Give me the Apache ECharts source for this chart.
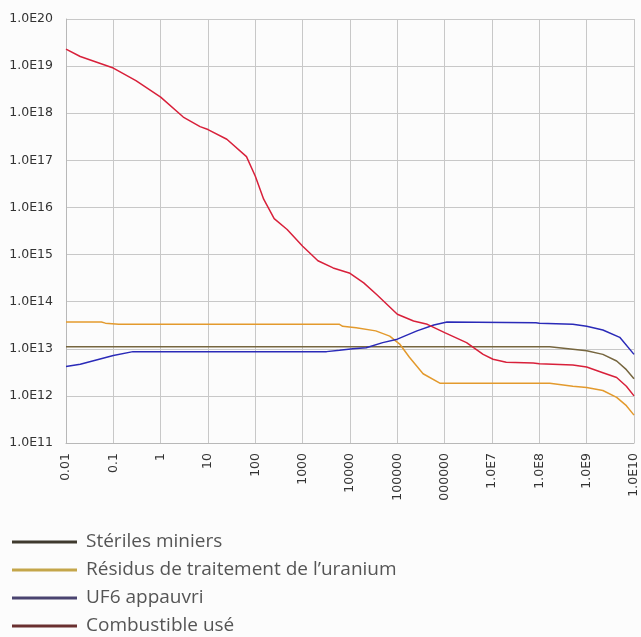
<!DOCTYPE html>
<html>
<head>
<meta charset="utf-8">
<script src="https://cdn.jsdelivr.net/npm/echarts@6/dist/echarts.min.js"></script>
<style>
html,body{margin:0;padding:0;background:#fff;}
#c{width:641px;height:637px;}
</style>
</head>
<body>
<div id="c"></div>
<script>
// Tick labels (as visible in the reference)
var xTickLabels = ["0.01","0.1","1","10","100","1000","10000","100000","000000","1.0E7","1.0E8","1.0E9","1.0E10"];
var yTickLabels = {11:"1.0E11",12:"1.0E12",13:"1.0E13",14:"1.0E14",15:"1.0E15",16:"1.0E16",17:"1.0E17",18:"1.0E18",19:"1.0E19",20:"1.0E20"};

var seriesNames = ["Stériles miniers","Résidus de traitement de l’uranium","UF6 appauvri","Combustible usé"];

// [time, value]
var sterilesMiniers = [
  [0.01,1.1e13],[1.66e8,1.1e13],[5.1e8,9.8e12],[1e9,9.1e12],[2.2e9,7.6e12],
  [4.3e9,5.5e12],[6.9e9,3.6e12],[1e10,2.3e12]
];
var residusUranium = [
  [0.01,3.7e13],[0.056,3.7e13],[0.068,3.5e13],[0.13,3.3e13],[6000,3.3e13],
  [7000,3.0e13],[13500,2.8e13],[35000,2.4e13],[69000,1.86e13],[1.12e5,1.26e13],
  [1.8e5,6.6e12],[3.5e5,2.95e12],[7.9e5,1.86e12],[1.66e8,1.86e12],[5.1e8,1.6e12],
  [1e9,1.5e12],[2.2e9,1.3e12],[4.3e9,9.3e11],[6.9e9,6.2e11],[1e10,3.9e11]
];
var uf6Appauvri = [
  [0.01,4.2e12],[0.02,4.7e12],[0.1,7.2e12],[0.26,8.7e12],[3200,8.7e12],
  [6000,9.3e12],[11500,1.0e13],[22000,1.05e13],[49000,1.35e13],[1e5,1.6e13],
  [2.6e5,2.4e13],[5.9e5,3.2e13],[1.12e6,3.7e13],[8.5e7,3.55e13],[1e8,3.5e13],
  [5.1e8,3.3e13],[1e9,3.0e13],[2.2e9,2.5e13],[5e9,1.75e13],[1e10,7.6e12]
];
var combustibleUse = [
  [0.01,2.3e19],[0.02,1.6e19],[0.1,9.1e18],[0.3,4.9e18],[1,2.2e18],[3,8.3e17],
  [6.8,5.2e17],[10,4.5e17],[25,2.8e17],[65,1.2e17],[100,4.6e16],[150,1.5e16],
  [250,5.8e15],[470,3.4e15],[1000,1.5e15],[2100,7.4e14],[4400,5.2e14],[10000,4.0e14],
  [19500,2.5e14],[37000,1.4e14],[1e5,5.4e13],[2.2e5,3.9e13],[4.3e5,3.3e13],[1e6,2.2e13],
  [2.9e6,1.35e13],[6.5e6,7.6e12],[1.05e7,6.0e12],[2e7,5.2e12],[7.4e7,5.0e12],[1e8,4.8e12],
  [5.1e8,4.5e12],[1e9,4.1e12],[2.2e9,3.1e12],[4.3e9,2.45e12],[6.9e9,1.6e12],[1e10,1.0e12]
];

var lineColors = ["#76663f","#e39a2d","#2a2ab8","#d8203a"];
var legendColors = ["#3f3a2e","#c4a64a","#4a4470","#6a3030"];
var allData = [sterilesMiniers, residusUranium, uf6Appauvri, combustibleUse];

var chart = echarts.init(document.getElementById('c'), null, {renderer:'canvas'});
var axisFont = {fontFamily:'DejaVu Sans', fontSize:12.5, color:'#333'};
chart.setOption({
  backgroundColor:'#fcfcfc',
  animation:false,
  grid:{left:66, top:19, width:568, height:424, containLabel:false},
  xAxis:{
    type:'log', logBase:10, min:0.01, max:1e10, interval:1,
    axisLine:{show:true, lineStyle:{color:'#b8b8b8', width:1}},
    axisTick:{show:false},
    splitLine:{show:true, lineStyle:{color:'#c8c8c8', width:1}},
    axisLabel:Object.assign({rotate:90, margin:10, showMinLabel:true, showMaxLabel:true,
      formatter:function(v){ var e=Math.round(Math.log10(v)); return xTickLabels[e+2]||''; }}, axisFont)
  },
  yAxis:{
    type:'log', logBase:10, min:1e11, max:1e20, interval:1,
    axisLine:{show:true, lineStyle:{color:'#b8b8b8', width:1}},
    axisTick:{show:false},
    splitLine:{show:true, lineStyle:{color:'#c8c8c8', width:1}},
    axisLabel:Object.assign({margin:13, showMinLabel:true, showMaxLabel:true,
      formatter:function(v){ var e=Math.round(Math.log10(v)); return yTickLabels[e]||''; }}, axisFont)
  },
  legend:seriesNames.map(function(n,i){
    return {
      orient:'vertical', left:7, top:527 + i*28, itemWidth:65, itemHeight:3, itemGap:0,
      icon:'rect',
      textStyle:{fontFamily:'Open Sans', fontSize:19, color:'#555', lineHeight:20, padding:[0,0,0,4]},
      data:[{name:n, itemStyle:{color:legendColors[i]}}]
    };
  }),
  series:seriesNames.map(function(n,i){
    return {name:n, type:'line', data:allData[i], showSymbol:false, symbol:'none',
      lineStyle:{color:lineColors[i], width:1.5}, itemStyle:{color:lineColors[i]}};
  })
});
</script>
</body>
</html>
